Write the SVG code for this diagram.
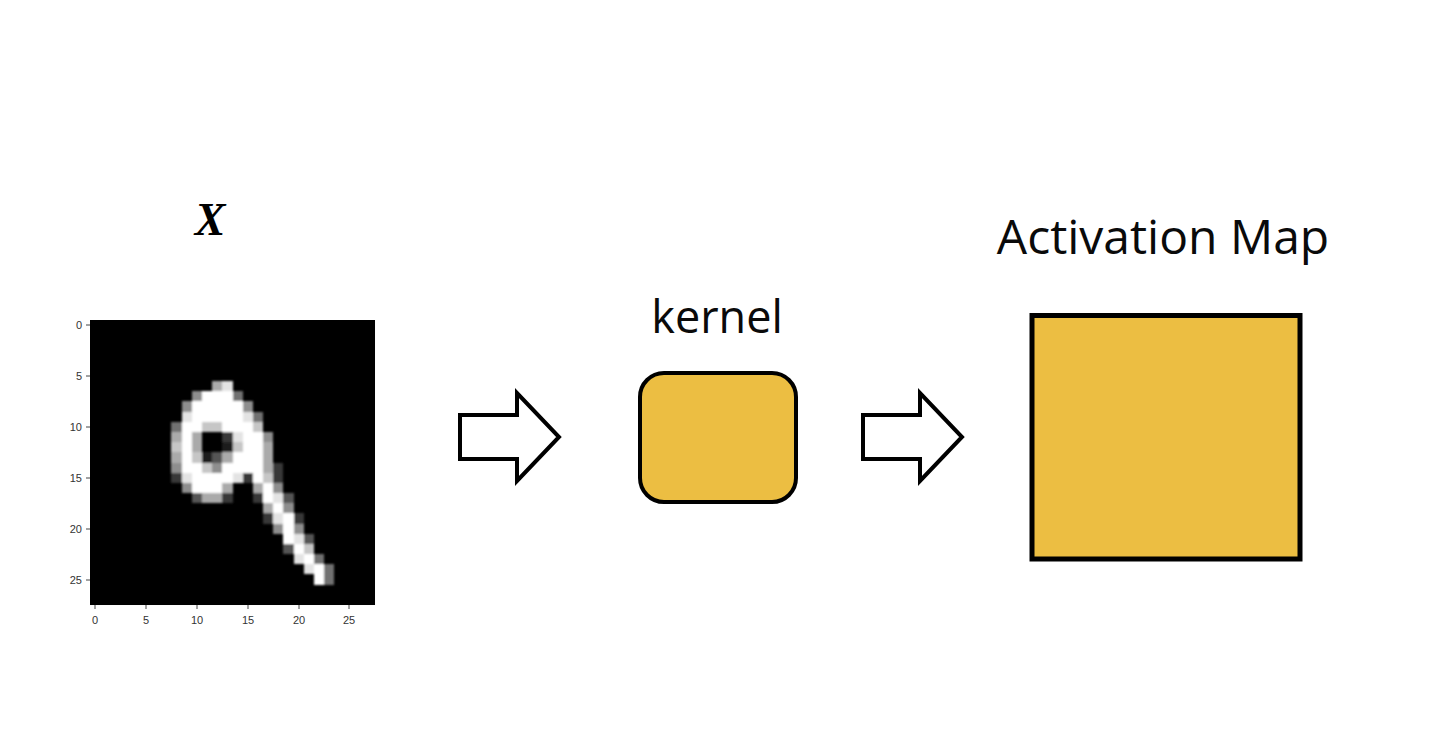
<svg xmlns="http://www.w3.org/2000/svg" width="1442" height="744" viewBox="0 0 1442 744">
<style>
.tick{font-family:"Liberation Sans",Arial,sans-serif;font-size:11px;fill:#333}
.lbl{font-family:"Open Sans","Liberation Sans",sans-serif;fill:#0a0a0a}
.arrow{fill:#fff;stroke:#000;stroke-width:4;stroke-linejoin:miter}
.box{fill:#ECBE42;stroke:#000}
.px rect{shape-rendering:crispEdges}
.g1{fill:#1c1c1c}.g2{fill:#393939}.g3{fill:#555}.g4{fill:#717171}.g5{fill:#8e8e8e}.g6{fill:#aaa}.g7{fill:#c6c6c6}.g8{fill:#e3e3e3}.g9{fill:#fff}
</style>
<defs>
<filter id="soft" x="-5%" y="-5%" width="110%" height="110%"><feGaussianBlur stdDeviation="0.13"/></filter>
<clipPath id="imgclip"><rect x="0" y="0" width="28" height="28"/></clipPath>
</defs>
<rect width="1442" height="744" fill="#fff"/>

<g id="input-x">
<text x="210" y="235" text-anchor="middle" font-family="Liberation Serif,serif" font-weight="bold" font-style="italic" font-size="46" fill="#000">X</text>
<g transform="translate(90,320) scale(10.179)">
<rect x="0" y="0" width="28" height="28" fill="#000"/>
<g clip-path="url(#imgclip)"><g filter="url(#soft)" class="px">
<rect class="g6" x="12" y="6" width="1" height="1"/><rect class="g8" x="13" y="6" width="1" height="1"/>
<rect class="g5" x="10" y="7" width="1" height="1"/><rect class="g9" x="11" y="7" width="3" height="1"/><rect class="g4" x="14" y="7" width="1" height="1"/>
<rect class="g5" x="9" y="8" width="1" height="1"/><rect class="g9" x="10" y="8" width="5" height="1"/><rect class="g5" x="15" y="8" width="1" height="1"/>
<rect class="g8" x="9" y="9" width="1" height="1"/><rect class="g9" x="10" y="9" width="5" height="1"/><rect class="g8" x="15" y="9" width="1" height="1"/><rect class="g4" x="16" y="9" width="1" height="1"/>
<rect class="g4" x="8" y="10" width="1" height="1"/><rect class="g9" x="9" y="10" width="2" height="1"/><rect class="g7" x="11" y="10" width="2" height="1"/><rect class="g9" x="13" y="10" width="3" height="1"/><rect class="g7" x="16" y="10" width="1" height="1"/>
<rect class="g6" x="8" y="11" width="1" height="1"/><rect class="g9" x="9" y="11" width="1" height="1"/><rect class="g6" x="10" y="11" width="1" height="1"/><rect class="g2" x="13" y="11" width="1" height="1"/><rect class="g8" x="14" y="11" width="1" height="1"/><rect class="g9" x="15" y="11" width="2" height="1"/><rect class="g5" x="17" y="11" width="1" height="1"/>
<rect class="g7" x="8" y="12" width="1" height="1"/><rect class="g9" x="9" y="12" width="1" height="1"/><rect class="g6" x="10" y="12" width="1" height="1"/><rect class="g1" x="13" y="12" width="1" height="1"/><rect class="g7" x="14" y="12" width="1" height="1"/><rect class="g9" x="15" y="12" width="2" height="1"/><rect class="g6" x="17" y="12" width="1" height="1"/>
<rect class="g6" x="8" y="13" width="1" height="1"/><rect class="g9" x="9" y="13" width="1" height="1"/><rect class="g7" x="10" y="13" width="1" height="1"/><rect class="g1" x="11" y="13" width="1" height="1"/><rect class="g3" x="12" y="13" width="1" height="1"/><rect class="g6" x="13" y="13" width="1" height="1"/><rect class="g9" x="14" y="13" width="3" height="1"/><rect class="g6" x="17" y="13" width="1" height="1"/>
<rect class="g5" x="8" y="14" width="1" height="1"/><rect class="g9" x="9" y="14" width="2" height="1"/><rect class="g7" x="11" y="14" width="1" height="1"/><rect class="g5" x="12" y="14" width="1" height="1"/><rect class="g9" x="13" y="14" width="4" height="1"/><rect class="g6" x="17" y="14" width="1" height="1"/><rect class="g2" x="18" y="14" width="1" height="1"/>
<rect class="g2" x="8" y="15" width="1" height="1"/><rect class="g8" x="9" y="15" width="1" height="1"/><rect class="g9" x="10" y="15" width="4" height="1"/><rect class="g8" x="14" y="15" width="1" height="1"/><rect class="g2" x="15" y="15" width="1" height="1"/><rect class="g9" x="16" y="15" width="1" height="1"/><rect class="g7" x="17" y="15" width="1" height="1"/><rect class="g2" x="18" y="15" width="1" height="1"/>
<rect class="g5" x="9" y="16" width="1" height="1"/><rect class="g9" x="10" y="16" width="3" height="1"/><rect class="g6" x="13" y="16" width="1" height="1"/><rect class="g6" x="16" y="16" width="1" height="1"/><rect class="g9" x="17" y="16" width="1" height="1"/><rect class="g5" x="18" y="16" width="1" height="1"/>
<rect class="g3" x="10" y="17" width="1" height="1"/><rect class="g6" x="11" y="17" width="2" height="1"/><rect class="g2" x="13" y="17" width="1" height="1"/><rect class="g2" x="16" y="17" width="1" height="1"/><rect class="g9" x="17" y="17" width="1" height="1"/><rect class="g8" x="18" y="17" width="1" height="1"/><rect class="g3" x="19" y="17" width="1" height="1"/>
<rect class="g6" x="17" y="18" width="1" height="1"/><rect class="g9" x="18" y="18" width="1" height="1"/><rect class="g5" x="19" y="18" width="1" height="1"/>
<rect class="g2" x="17" y="19" width="1" height="1"/><rect class="g8" x="18" y="19" width="1" height="1"/><rect class="g9" x="19" y="19" width="1" height="1"/><rect class="g2" x="20" y="19" width="1" height="1"/>
<rect class="g5" x="18" y="20" width="1" height="1"/><rect class="g9" x="19" y="20" width="1" height="1"/><rect class="g5" x="20" y="20" width="1" height="1"/>
<rect class="g9" x="19" y="21" width="1" height="1"/><rect class="g8" x="20" y="21" width="1" height="1"/><rect class="g3" x="21" y="21" width="1" height="1"/>
<rect class="g3" x="19" y="22" width="1" height="1"/><rect class="g9" x="20" y="22" width="1" height="1"/><rect class="g7" x="21" y="22" width="1" height="1"/>
<rect class="g8" x="20" y="23" width="1" height="1"/><rect class="g9" x="21" y="23" width="1" height="1"/><rect class="g4" x="22" y="23" width="1" height="1"/>
<rect class="g8" x="21" y="24" width="1" height="1"/><rect class="g9" x="22" y="24" width="1" height="1"/><rect class="g4" x="23" y="24" width="1" height="1"/>
<rect class="g9" x="22" y="25" width="1" height="1"/><rect class="g4" x="23" y="25" width="1" height="1"/>
</g></g>
</g>
<g stroke="#444" stroke-width="1">
<line x1="86" y1="325" x2="90" y2="325"/><line x1="86" y1="376" x2="90" y2="376"/><line x1="86" y1="427" x2="90" y2="427"/><line x1="86" y1="478" x2="90" y2="478"/><line x1="86" y1="529" x2="90" y2="529"/><line x1="86" y1="580" x2="90" y2="580"/>
<line x1="95" y1="605" x2="95" y2="609"/><line x1="146" y1="605" x2="146" y2="609"/><line x1="197" y1="605" x2="197" y2="609"/><line x1="248" y1="605" x2="248" y2="609"/><line x1="299" y1="605" x2="299" y2="609"/><line x1="349" y1="605" x2="349" y2="609"/>
</g>
<g class="tick" text-anchor="end">
<text x="82" y="329">0</text><text x="82" y="380">5</text><text x="82" y="431">10</text><text x="82" y="482">15</text><text x="82" y="533">20</text><text x="82" y="584">25</text>
</g>
<g class="tick" text-anchor="middle">
<text x="95" y="624">0</text><text x="146" y="624">5</text><text x="197" y="624">10</text><text x="248" y="624">15</text><text x="299" y="624">20</text><text x="349" y="624">25</text>
</g>
</g>

<g id="connectors">
<path class="arrow" d="M460,415 H517 V393 L559,437 L517,481 V459 H460 Z"/>
<path class="arrow" d="M863,415 H920 V393 L962,437 L920,481 V459 H863 Z"/>
</g>

<g id="kernel">
<text class="lbl" x="717" y="333" text-anchor="middle" font-size="45">kernel</text>
<rect class="box" x="640" y="373" width="156" height="129" rx="24" stroke-width="4"/>
</g>

<g id="activation-map">
<text class="lbl" x="1163" y="254" text-anchor="middle" font-size="48">Activation Map</text>
<rect class="box" x="1032" y="315.5" width="268" height="243.5" stroke-width="5"/>
</g>
</svg>
